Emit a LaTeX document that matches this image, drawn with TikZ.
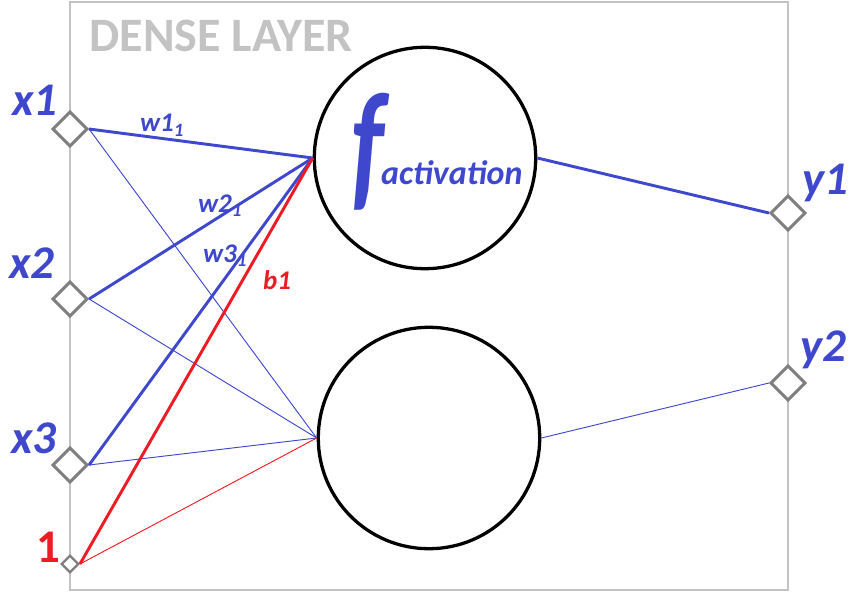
\documentclass[tikz,border=0pt]{standalone}
\usepackage{fontspec}
\setmainfont{Carlito}
\usetikzlibrary{shapes.geometric}
\definecolor{nnblue}{HTML}{3F48CC}
\definecolor{nnred}{HTML}{ED1C24}
\definecolor{portgray}{HTML}{7F7F7F}
\definecolor{boxgray}{HTML}{C3C3C3}
\tikzset{
  port/.style={diamond, draw=portgray, line width=2.5pt, fill=white,
    minimum width=30pt, minimum height=30pt, inner sep=0pt},
  neuron/.style={circle, draw, line width=2.8pt, fill=white,
    minimum size=189pt, inner sep=0pt},
  varlbl/.style={font=\fontsize{40}{40}\selectfont\bfseries\itshape},
  wlbl/.style={font=\fontsize{23}{23}\selectfont\bfseries\itshape, anchor=base west},
  heavy/.style={line width=2.5pt},
  light/.style={line width=0.8pt}
}
\begin{document}
\begin{tikzpicture}[x=0.03cm, y=-0.03cm]
    \useasboundingbox (0,0) rectangle (852,597);
    \draw[boxgray, line width=1.2pt] (70,2) rectangle (788,590);
    \node[boxgray, font=\fontsize{41}{41}\selectfont\bfseries] (title) at (221,36) {DENSE LAYER};

    % inputs
    \node[port] (in1) at (70,129) {};
    \node[port] (in2) at (70,299) {};
    \node[port] (in3) at (70,465) {};
    \node[port, minimum width=15pt, minimum height=15pt, line width=2pt] (bias) at (70,564) {};
    \node[varlbl, nnblue] (lx1) at (35,100) {x1};
    \node[varlbl, nnblue] (lx2) at (32,263) {x2};
    \node[varlbl, nnblue] (lx3) at (34,438) {x3};
    \node[varlbl, nnred, font=\fontsize{40}{40}\selectfont\bfseries] (lone) at (48,547) {1};

    % neurons
    \node[neuron] (n1) at (425,158) {};
    \node[neuron] (n2) at (429,438) {};
    \node[nnblue, font=\fontsize{88}{88}\selectfont\bfseries\itshape] (f) at (368,152) {\scalebox{1}[1.4]{f}};
    \node[nnblue, font=\fontsize{29}{29}\selectfont\bfseries\itshape, anchor=base west] (act) at (377,184) {activation};

    % outputs
    \node[port] (out1) at (788,213) {};
    \node[port] (out2) at (788,383) {};
    \node[varlbl, nnblue] (ly1) at (825,183) {y1};
    \node[varlbl, nnblue] (ly2) at (823,350) {y2};

    % weights to second neuron
    \draw[light, nnblue] (in1.east) -- (n2.west);
    \draw[light, nnblue] (in2.east) -- (n2.west);
    \draw[light, nnblue] (in3.east) -- (n2.west);
    \draw[light, nnred] (bias.east) -- (n2.west);
    \draw[light, nnblue] (n2.east) -- (out2.west);

    % weights to first neuron
    \draw[heavy, nnblue] (in1.east) -- (n1.west);
    \draw[heavy, nnblue] (in2.east) -- (n1.west);
    \draw[heavy, nnblue] (in3.east) -- (n1.west);
    \draw[heavy, nnred] (bias.east) -- (n1.west);
    \draw[heavy, nnblue] (n1.east) -- (out1.west);

    \node[wlbl, nnblue] (w1) at (136,132) {w1\textsubscript{1}};
    \node[wlbl, nnblue] (w2) at (194,212) {w2\textsubscript{1}};
    \node[wlbl, nnblue] (w3) at (199,262) {w3\textsubscript{1}};
    \node[wlbl, nnred] (b1) at (259,289) {b1};
\end{tikzpicture}
\end{document}
